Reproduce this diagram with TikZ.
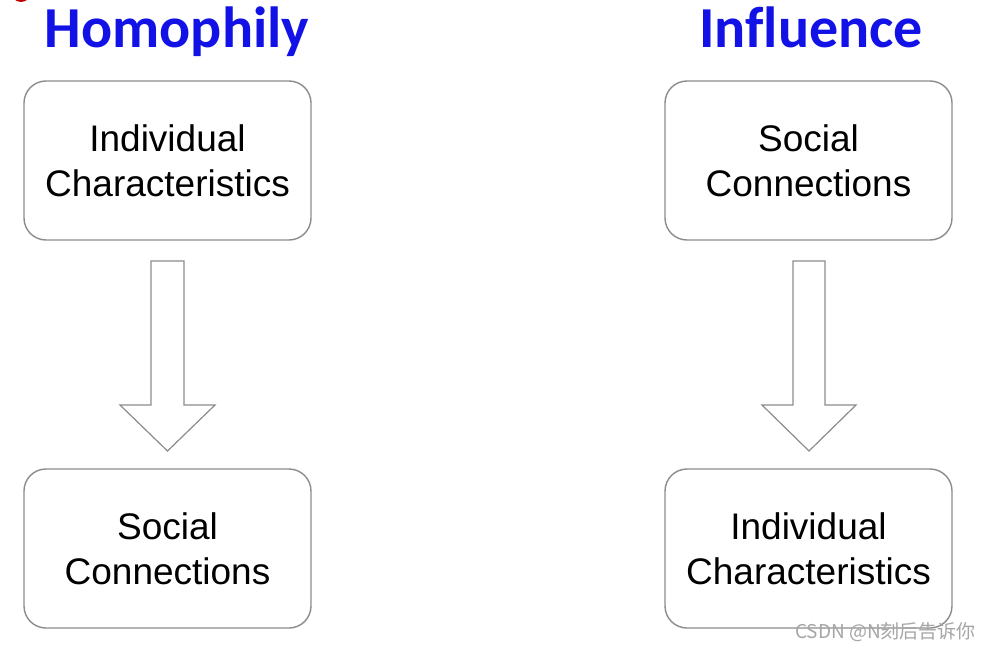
\documentclass[tikz,border=0pt]{standalone}
\usepackage{fontspec}
\setmainfont{Liberation Sans}
\newfontfamily\titlefont[Ligatures=NoCommon]{Carlito}
\newfontfamily\cjkfont{Noto Sans CJK SC}
\definecolor{titleblue}{RGB}{18,18,230}
\definecolor{boxgray}{RGB}{140,140,140}
\definecolor{wmgray}{RGB}{165,165,165}
\begin{document}
\begin{tikzpicture}[x=1pt,y=-1pt,
  box/.style={draw=boxgray,line width=1.4pt,rounded corners=22pt,minimum width=287pt,minimum height=159pt,align=center,font=\fontsize{37}{45}\selectfont,inner sep=0pt},
  title/.style={text=titleblue,font=\titlefont\bfseries\fontsize{58}{60}\selectfont,inner sep=0pt,anchor=base},
  bigarrow/.style={draw=boxgray,line width=1.2pt,fill=white,line join=miter}]
\useasboundingbox (0,0) rectangle (993,650);
\fill[white] (0,0) rectangle (993,650);
\begin{scope}
\clip (0,0) rectangle (993,650);
\fill[red!75!black] (21,-8) ellipse (10pt and 10pt);
\end{scope}
\node[title] (t1) at (177,48) {Homophily};
\node[title] (t2) at (811,48) {Influence};
\node[box] (a1) at (167.5,160.5) {Individual\\Characteristics};
\node[box] (a2) at (167.5,548.5) {Social\\Connections};
\node[box] (b1) at (808.5,160.5) {Social\\Connections};
\node[box] (b2) at (808.5,548.5) {Individual\\Characteristics};
\coordinate (p1) at (167.5,451);
\coordinate (p2) at (809,451);
\draw[bigarrow] (151,261) -- (184,261) -- (184,405) -- (215,405) -- (p1) -- (120,405) -- (151,405) -- cycle;
\draw[bigarrow] (793,261) -- (825,261) -- (825,405) -- (856,405) -- (p2) -- (762,405) -- (793,405) -- cycle;
\node[text=wmgray,font=\cjkfont\fontsize{19}{21}\selectfont,anchor=east,inner sep=0pt] (wm) at (976,632) {CSDN @N刻后告诉你};
\end{tikzpicture}
\end{document}
